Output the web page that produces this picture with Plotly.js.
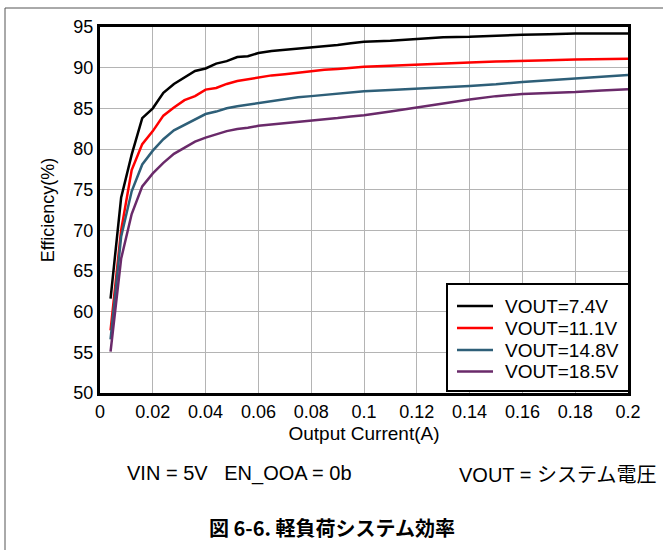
<!DOCTYPE html>
<html>
<head>
<meta charset="utf-8">
<script src="https://cdn.plot.ly/plotly-3.0.1.min.js"></script>
<style>html,body{margin:0;padding:0;background:#fff;}#chart{width:663px;height:550px;}</style>
</head>
<body>
<div id="chart"></div>
<script>
const current = [0.004,0.008,0.012,0.016,0.02,0.024,0.028,0.032,0.036,0.04,0.044,0.048,0.052,0.056,0.06,0.065,0.07,0.075,0.08,0.085,0.09,0.095,0.1,0.11,0.12,0.13,0.14,0.15,0.16,0.17,0.18,0.19,0.2];
const eff74 = [61.6,74.0,79.3,83.8,85.0,86.9,88.0,88.8,89.6,89.9,90.5,90.8,91.3,91.4,91.8,92.05,92.2,92.3,92.45,92.6,92.8,93.0,93.2,93.3,93.5,93.75,93.8,93.95,94.05,94.1,94.2,94.2,94.2];
const eff111 = [57.7,70.0,77.4,80.6,82.2,84.1,85.1,86.0,86.5,87.3,87.5,88.0,88.35,88.55,88.75,89.05,89.2,89.4,89.6,89.75,89.85,90.0,90.1,90.25,90.4,90.55,90.65,90.75,90.8,90.9,91.0,91.05,91.1];
const eff148 = [56.6,69.2,74.8,78.1,79.8,81.2,82.3,83.0,83.6,84.3,84.6,85.0,85.25,85.45,85.65,85.9,86.15,86.35,86.5,86.65,86.8,86.95,87.1,87.25,87.4,87.55,87.75,87.95,88.25,88.45,88.65,88.85,89.1];
const eff185 = [55.1,66.5,72.0,75.4,77.0,78.3,79.4,80.2,80.9,81.4,81.8,82.2,82.45,82.6,82.85,83.0,83.15,83.3,83.45,83.6,83.8,84.0,84.15,84.6,85.1,85.6,86.1,86.5,86.75,86.9,87.0,87.2,87.35];
const seriesNames = ["VOUT=7.4V","VOUT=11.1V","VOUT=14.8V","VOUT=18.5V"];
const seriesColors = ["#000000","#ff0000","#2e5f78","#6a2a6a"];
const xTicks = [0,0.02,0.04,0.06,0.08,0.1,0.12,0.14,0.16,0.18,0.2];
const xTickText = ["0","0.02","0.04","0.06","0.08","0.1","0.12","0.14","0.16","0.18","0.2"];
const yTicks = [50,55,60,65,70,75,80,85,90,95];

const ys = [eff74, eff111, eff148, eff185];
const FONT = "Arial, 'Liberation Sans', sans-serif";
const traces = ys.map((y,i)=>({
  x: current, y: y, type: 'scatter', mode: 'lines', name: seriesNames[i],
  line: {color: seriesColors[i], width: 2.5}, showlegend: false
}));

// pixel helpers for decorations (plot area 100..628 x, 27..393 y)
const px = v => (v - 100) / 528;
const py = v => (393 - v) / 366;

const shapes = [
  {type: 'rect', xref: 'paper', yref: 'paper', x0: px(5), x1: px(700), y0: py(600), y1: py(8),
   line: {color: '#555', width: 1}, fillcolor: 'rgba(0,0,0,0)', layer: 'below'},
  {type: 'rect', xref: 'paper', yref: 'paper', x0: px(447), x1: px(629), y0: py(391), y1: py(284),
   line: {color: '#000', width: 2}, fillcolor: '#fff', layer: 'above'}
];
const annotations = [
  {xref: 'paper', yref: 'paper', x: px(239), y: py(473), text: 'VIN = 5V\u00a0\u00a0\u00a0EN_OOA = 0b', showarrow: false,
   xanchor: 'center', yanchor: 'middle', font: {family: FONT, size: 20}},
  {xref: 'paper', yref: 'paper', x: px(457), y: py(473), text: "VOUT = <span style=\"font-family:'Noto Sans CJK JP'\">システム電圧</span>", showarrow: false,
   xanchor: 'left', yanchor: 'middle', font: {family: FONT, size: 20}},
  {xref: 'paper', yref: 'paper', x: px(332), y: py(527), text: '<b>図 6-6. 軽負荷システム効率</b>', showarrow: false,
   xanchor: 'center', yanchor: 'middle', font: {family: "'Noto Sans CJK JP', sans-serif", size: 20}}
];
const legendY = [306, 328, 350, 371.5];
seriesNames.forEach((n,i)=>{
  shapes.push({type: 'line', xref: 'paper', yref: 'paper', x0: px(457), x1: px(493), y0: py(legendY[i]), y1: py(legendY[i]),
    line: {color: seriesColors[i], width: 2.5}, layer: 'above'});
  annotations.push({xref: 'paper', yref: 'paper', x: px(503), y: py(legendY[i]), text: n, showarrow: false,
    xanchor: 'left', yanchor: 'middle', font: {family: FONT, size: 19}});
});

const layout = {
  width: 663, height: 550,
  margin: {l:100, r:35, t:27, b:157},
  paper_bgcolor: '#fff', plot_bgcolor: '#fff',
  font: {family: FONT, color: '#000', size: 18},
  showlegend: false,
  xaxis: {range: [0, 0.2], tickvals: xTicks, ticktext: xTickText, showgrid: true, gridcolor: '#b4b4b4', gridwidth: 1,
          showline: true, mirror: true, linecolor: '#000', linewidth: 3, ticks: '', zeroline: false,
          tickfont: {family: FONT, size: 18}, title: {text: 'Output Current(A)', font: {family: FONT, size: 19}, standoff: 7}},
  yaxis: {range: [50, 95], tickvals: yTicks, showgrid: true, gridcolor: '#b4b4b4', gridwidth: 1,
          showline: true, mirror: true, linecolor: '#000', linewidth: 3, ticks: '', zeroline: false,
          tickfont: {family: FONT, size: 18}, title: {text: 'Efficiency(%)', font: {family: FONT, size: 18}, standoff: 15}},
  shapes: shapes,
  annotations: annotations
};
Plotly.newPlot('chart', traces, layout, {displayModeBar: false, staticPlot: true});
</script>
</body>
</html>
